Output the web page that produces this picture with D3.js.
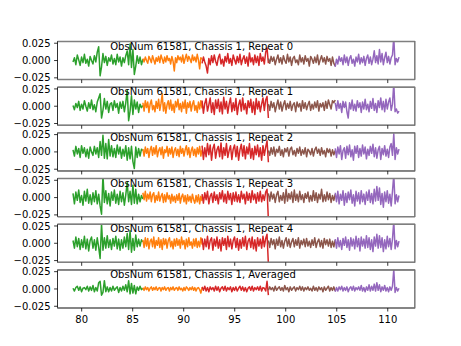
<!DOCTYPE html>
<html>
<head>
<meta charset="utf-8">
<script src="https://cdn.jsdelivr.net/npm/d3@7/dist/d3.min.js"></script>
<style>
  body { margin: 0; background: #fff; }
  text { font-family: "DejaVu Sans", sans-serif; font-size: 10px; fill: #000; }
</style>
</head>
<body>
<svg id="chart" width="461" height="346"></svg>
<script>
// Panel titles, one per stacked axes
const panelTitles = [
  "ObsNum 61581, Chassis 1, Repeat 0",
  "ObsNum 61581, Chassis 1, Repeat 1",
  "ObsNum 61581, Chassis 1, Repeat 2",
  "ObsNum 61581, Chassis 1, Repeat 3",
  "ObsNum 61581, Chassis 1, Repeat 4",
  "ObsNum 61581, Chassis 1, Averaged"
];

// Frequency span of each band (x-axis units)
const bandEdges = [[79.15, 86.0], [86.0, 91.8], [91.8, 98.3], [98.3, 104.85], [104.85, 111.1]];
const bandColors = ["#2ca02c", "#ff7f0e", "#d62728", "#8c564b", "#9467bd"];

const xTicks = [80, 85, 90, 95, 100, 105, 110];
const yTicks = [-0.025, 0, 0.025];
const yTickLabels = ["\u22120.025", "0.000", "0.025"];

// Band values per panel, in units of 1e-3 (evenly spaced channels across each band)
const repeat0 = [
  [-2,4,-6,8,1,-7,5,-3,9,-4,2,-8,6,0,-5,7,-2,12,20,-22,-9,10,-3,6,-7,4,-1,8,-5,3,-6,9,-2,5,-8,4,-3,7,14,-6,24,-10,16,-20,-8,7,-4,5,-6,2],
  [3,-2,5,0,-4,6,2,-3,7,1,-5,4,-1,6,-3,8,2,-4,5,-2,7,0,3,-5,6,-1,-15,4,-3,7,1,5,-2,8,-4,3,9,-1,6,2,-3,8,0,5,-2,9,1,-12,4,2],
  [-4,5,-2,-8,-18,3,-6,7,-3,8,-1,-7,4,9,-5,2,-8,6,-2,10,-4,3,-7,8,1,-5,6,-3,9,-6,2,7,-4,5,-8,11,-2,4,-6,8,-3,6,-7,10,-1,5,-5,12,18,-4],
  [3,-4,6,-1,5,-6,2,8,-3,4,-5,7,0,-4,9,-2,5,-7,3,6,-3,1,-6,8,-2,4,-5,7,-1,3,-8,6,2,-4,5,-3,8,-6,1,7,-2,4,-5,6,-1,3,-7,5,-4,-8],
  [-9,2,-5,6,-1,4,-6,8,-3,5,-7,3,7,-4,2,-8,5,-2,9,-5,4,-3,6,-7,3,8,-4,5,-6,2,14,-3,7,-5,16,-2,10,-6,4,12,-3,6,-5,4,8,34,-6,3,-2,5]
];
const repeat1 = [
  [1,-5,4,-2,7,-6,3,-4,8,0,-7,5,-3,9,-5,2,-8,6,12,18,-17,-6,11,-4,7,-9,3,5,-6,8,-2,4,-10,6,-3,7,-8,5,23,-21,-7,15,-12,9,-4,6,-9,3,-2,1],
  [5,-7,8,-2,6,-9,3,9,-5,1,-8,7,-3,10,-6,4,18,-7,5,-10,2,8,-4,9,-6,3,-9,7,-1,10,-5,4,-8,6,-3,9,-10,5,-2,7,-7,3,8,-6,1,-9,6,-4,8,-3],
  [8,-10,4,11,-7,2,12,-9,5,-12,9,-3,10,-8,6,-11,13,-4,7,-10,3,12,-8,5,-6,11,-12,2,9,-7,12,-5,4,-11,8,-2,10,-9,6,-12,11,-4,7,-8,3,12,-6,9,14,-17],
  [3,-6,7,-2,5,-8,1,9,-4,6,-7,2,8,-5,4,-3,7,-6,2,5,-8,6,-1,4,-7,8,-3,5,-5,2,7,-6,3,-4,6,-2,8,-7,4,-1,5,-6,7,-3,9,2,-4,8,5,9],
  [5,-6,8,-3,4,-9,7,-2,6,-8,-17,5,-4,9,-6,3,-7,8,-2,5,-9,6,-4,10,-5,3,-8,7,-3,11,-6,4,-9,8,-2,12,-5,7,-8,10,-4,6,12,-6,3,33,-8,-4,-10,-7]
];
const repeat2 = [
  [3,-6,8,-3,5,-8,9,-2,6,-7,4,-9,7,0,-5,8,-3,6,-8,15,-5,24,-9,12,-10,18,-6,9,-7,5,-8,10,-3,7,-9,4,-6,9,-12,6,-10,8,-14,-24,7,-8,5,-6,4,2],
  [4,-6,7,-2,5,-8,3,8,-5,6,-3,9,-7,2,6,-4,7,-9,3,-1,8,-6,5,-3,7,-8,2,6,-5,4,-7,8,-2,5,-6,3,9,-4,6,-8,2,7,-5,4,-7,6,-3,8,-6,3],
  [9,-11,6,-7,12,-4,10,-12,5,11,-9,3,8,-7,13,-10,6,-5,12,-8,2,9,-11,4,10,-7,8,-12,3,11,-6,9,-10,7,-3,12,-9,5,-11,8,-4,10,-7,6,-12,9,-5,7,16,-15],
  [2,-5,6,-3,7,-6,4,-1,8,-5,3,-7,5,0,6,-6,4,7,-4,2,-6,5,-2,7,-5,3,-3,6,-7,4,1,-4,5,-6,3,7,-2,4,-5,6,-3,2,-7,5,-1,4,-6,3,-4,2],
  [5,-8,7,-3,9,-11,2,6,-9,8,-4,10,-7,3,-12,8,-2,9,-8,5,-6,10,-3,7,-10,4,-5,8,-2,11,-7,6,-9,3,8,-11,5,-4,9,-6,4,-8,7,12,-5,26,-11,6,-3,4]
];
const repeat3 = [
  [6,-9,8,-4,11,-7,3,-11,9,-5,12,-8,4,-10,7,-6,10,-9,5,-12,-24,33,-7,10,-9,6,-12,8,-4,11,-8,5,-10,9,-6,7,-11,4,22,-6,9,-10,18,-8,12,-9,5,-6,3,-2],
  [7,-3,9,-5,5,-2,8,-6,4,7,-7,3,-4,8,-5,2,6,-7,4,-6,7,-2,3,-8,5,-5,2,-7,4,-4,6,-8,1,5,-6,3,-9,4,-5,2,-7,5,-3,-8,3,-6,4,-9,2,-5],
  [5,-8,7,-3,9,-9,2,6,-7,8,-4,4,-9,7,-2,10,-6,5,-8,9,-3,6,-10,7,-5,8,-6,4,-7,9,-2,5,-9,8,-4,6,-7,10,-3,5,-8,7,-5,9,-6,4,-4,8,12,-32],
  [6,-5,8,-2,5,-7,4,9,-6,3,-4,7,-8,12,-5,6,-2,8,-7,11,-4,5,-6,9,-3,4,-7,6,-1,8,-6,3,-5,10,-4,7,-7,5,-2,12,-6,4,-5,8,-3,6,-7,3,-4,5],
  [7,-6,9,-9,5,-4,10,-11,6,-7,8,-3,11,-8,4,-12,9,-5,7,-9,10,-6,5,-10,8,-4,11,-7,6,-9,12,-5,16,-4,14,-10,6,-14,8,-6,10,-8,5,-12,9,33,-9,4,-6,3]
];
const repeat4 = [
  [4,-7,9,-5,7,-9,5,-6,10,-8,6,-11,4,9,-7,5,-10,8,-6,-22,28,-10,8,-7,11,-6,5,-9,7,-4,10,-8,6,-10,5,-7,9,-5,14,-9,18,-13,7,-10,12,-5,6,-4,5,2],
  [5,-6,8,-4,7,-8,3,6,-5,9,-7,4,-3,8,-6,5,-9,7,-2,6,-7,4,8,-5,3,-8,6,-4,7,-3,5,-7,9,-2,4,-8,6,-5,8,-3,2,-7,6,-4,7,-6,3,-5,8,-2],
  [7,-9,6,-5,10,-8,4,8,-10,6,-4,9,-7,5,-11,8,-3,7,-9,10,-5,6,-8,4,9,-6,7,-10,5,-7,8,-4,10,-9,3,7,-6,9,-8,5,-11,8,-4,6,-7,10,-5,7,13,-30],
  [4,-6,7,-2,5,-8,6,-3,9,-5,4,-7,3,8,-4,6,-6,2,7,-5,5,-3,8,-7,4,-2,6,-5,7,-4,3,-6,5,-3,8,-6,2,6,-5,4,-7,7,-2,5,-4,6,-6,3,-5,5],
  [6,-7,8,-5,4,-9,7,-3,9,-6,5,-10,8,-4,6,-8,10,-5,7,-11,9,-4,6,-7,11,-6,8,-9,5,-12,9,-4,13,-7,11,-6,8,-12,5,-8,10,-5,7,-9,6,32,-8,4,-5,3]
];
const averaged = [
  [1,-3,2,4,-2,3,-4,1,2,-1,4,-3,3,-2,5,-4,2,-3,9,11,-9,-5,12,-4,3,-4,2,-3,4,-2,1,3,-5,2,-3,4,-2,6,-4,12,-7,8,-6,5,-7,3,-2,4,-1,1],
  [2,-2,3,-1,2,-3,1,3,-2,2,-1,3,-2,1,2,-3,2,-1,3,-2,1,2,-3,2,-1,3,-2,1,2,-2,3,-1,1,-3,2,-2,3,1,-2,2,-1,3,-2,2,-3,1,2,-1,-6,2],
  [3,-2,4,-3,2,-4,3,-1,2,-3,4,-2,3,-4,1,3,-2,4,-3,2,-1,3,-4,2,-2,3,-3,1,4,-2,3,-3,2,-4,1,3,-2,4,-3,2,-1,3,-2,4,-3,2,1,-3,11,-9],
  [-2,3,-1,2,-3,4,-2,1,3,-2,2,-3,5,-1,2,-4,3,-2,1,3,-3,2,-1,4,-2,3,-3,2,-1,3,-2,1,-3,4,-2,2,-3,3,-1,2,-4,3,-2,1,4,-3,2,-2,3,-3],
  [-4,2,-3,3,-1,4,-3,2,-2,3,-4,1,3,-2,4,-3,2,-1,3,-2,5,-3,2,-4,3,-2,6,-3,4,-2,7,-3,9,-2,6,-4,3,-2,5,-3,2,-4,3,-2,4,28,-5,2,-3,1]
];
const panels = [repeat0, repeat1, repeat2, repeat3, repeat4, averaged];
const valueUnit = 1e-3;

// Figure layout (stacked axes sharing the x range)
const axLeft = 57.6, axRight = 414.9, figTop = 41.5, figBottom = 308;
const nRows = panels.length, hspace = 0.2;
const axH = (figBottom - figTop) / (nRows + (nRows - 1) * hspace);
const gapH = axH * hspace;
const axW = axRight - axLeft;

const svg = d3.select("#chart");

const x = d3.scaleLinear().domain([77.64, 112.66]).range([0, axW]);
const y = d3.scaleLinear().domain([-0.0275, 0.0275]).range([axH, 0]);

const line = d3.line().x(d => x(d[0])).y(d => y(d[1]));

panels.forEach((bands, i) => {
  const g = svg.append("g")
    .attr("transform", `translate(${axLeft},${figTop + i * (axH + gapH)})`);

  const clipId = `clip-${i}`;
  g.append("clipPath").attr("id", clipId)
    .append("rect").attr("x", 0).attr("y", 0).attr("width", axW).attr("height", axH);

  const plot = g.append("g").attr("clip-path", `url(#${clipId})`);
  bands.forEach((vals, b) => {
    const [x0, x1] = bandEdges[b];
    const pts = vals.map((v, k) => [x0 + (x1 - x0) * k / (vals.length - 1), v * valueUnit]);
    plot.append("path")
      .attr("d", line(pts))
      .attr("fill", "none")
      .attr("stroke", bandColors[b])
      .attr("stroke-width", 1.5)
      .attr("stroke-linejoin", "round");
  });

  // frame
  g.append("rect").attr("x", 0).attr("y", 0).attr("width", axW).attr("height", axH)
    .attr("fill", "none").attr("stroke", "#000").attr("stroke-width", 0.8);
  // grey rules along top and bottom edges
  [0, axH].forEach(yy => {
    g.append("line").attr("x1", 0).attr("x2", axW).attr("y1", yy).attr("y2", yy)
      .attr("stroke", "#7f7f7f").attr("stroke-width", 1.5);
  });

  // y ticks
  yTicks.forEach((t, k) => {
    g.append("line").attr("x1", -3.5).attr("x2", 0).attr("y1", y(t)).attr("y2", y(t))
      .attr("stroke", "#000").attr("stroke-width", 0.8);
    g.append("text").attr("x", -7).attr("y", y(t)).attr("dy", "0.36em")
      .attr("text-anchor", "end").text(yTickLabels[k]);
  });

  // x ticks (labels only on the bottom panel)
  xTicks.forEach(t => {
    g.append("line").attr("x1", x(t)).attr("x2", x(t)).attr("y1", axH).attr("y2", axH + 3.5)
      .attr("stroke", "#000").attr("stroke-width", 0.8);
    if (i === nRows - 1) {
      g.append("text").attr("x", x(t)).attr("y", axH + 15.3)
        .attr("text-anchor", "middle").text(t);
    }
  });

  // panel title
  g.append("text").attr("x", x(82.8)).attr("y", 8.2).text(panelTitles[i]);
});
</script>
</body>
</html>
